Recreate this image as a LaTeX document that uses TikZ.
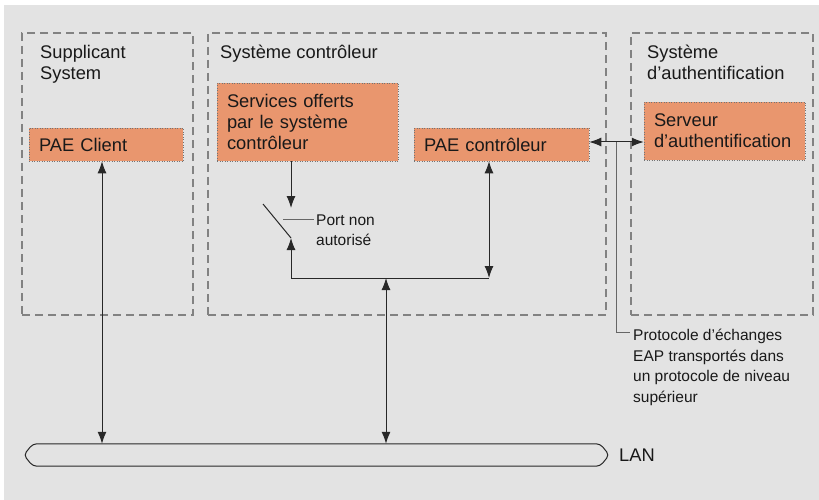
\documentclass[tikz,border=0pt]{standalone}
\usepackage{fontspec}
\setmainfont{Liberation Sans}
\usetikzlibrary{arrows.meta,calc}
\definecolor{bg}{RGB}{227,227,227}
\definecolor{orng}{RGB}{233,150,110}
\definecolor{ink}{RGB}{40,40,40}
\definecolor{dsh}{RGB}{130,130,130}
\definecolor{txt}{RGB}{25,25,25}
\begin{document}
\begin{tikzpicture}[x=1pt,y=-1pt,
  mainfont/.style={font=\fontsize{18.3}{21}\selectfont},
  smallfont/.style={font=\fontsize{15.5}{20.5}\selectfont},
  dbox/.style={draw=dsh, line width=1.1pt, dash pattern=on 8pt off 5pt, inner sep=0pt},
  obox/.style={draw=black!55, line width=0.5pt, dotted, fill=orng, inner xsep=10pt, inner ysep=0pt,
    align=left, mainfont, text=txt},
  title/.style={inner sep=0pt, align=left, anchor=north west, mainfont, text=txt},
  arr/.style={draw=ink, line width=1pt},
  tip/.style={-{Latex[length=12pt,width=9pt]}},
  tips/.style={{Latex[length=12pt,width=9pt]}-{Latex[length=12pt,width=9pt]}},
  note/.style={draw=black!60, line width=0.7pt}
]
\useasboundingbox (0,0) rectangle (819,500);
\fill[white] (0,0) rectangle (819,500);
\fill[bg] (4,5) rectangle (819,500);

% container boxes
\node[dbox, minimum width=171pt, minimum height=282pt] (sup) at (107.5,174) {};
\node[dbox, minimum width=398pt, minimum height=282pt] (ctl) at (407,174) {};
\node[dbox, minimum width=182pt, minimum height=282pt] (auth) at (722,174) {};

% titles
\node[title] (tsup) at (40,45) {Supplicant\\System};
\node[title] (tctl) at (220,45) {Système contrôleur};
\node[title] (tauth) at (647,45) {Système\\d'authentification};

% orange boxes
\node[obox, text width=134pt, minimum height=33pt] (paeclient) at (106,144.5) {PAE Client};
\node[obox, text width=161pt, minimum height=78pt] (services) at (307.5,122) {Services offerts\\par le système\\contrôleur};
\node[obox, text width=155pt, minimum height=33pt] (paectl) at (501.5,144.5) {PAE contrôleur};
\node[obox, text width=141pt, minimum height=58pt] (serveur) at (724.5,131) {Serveur\\d'authentification};

% LAN
\node[minimum width=585pt, minimum height=22pt, inner sep=0pt] (lan) at (316.5,455) {};
\draw[ink, line width=1pt, rounded corners=4pt]
  ([xshift=9pt]lan.north west) -- ([xshift=-9pt]lan.north east) -- (lan.east)
  -- ([xshift=-9pt]lan.south east) -- ([xshift=9pt]lan.south west) -- (lan.west) -- cycle;
\node[anchor=west, inner sep=0pt, mainfont, text=txt] (lanlbl) at (619,455) {LAN};

% coordinates
\coordinate (xclient) at (102,0);
\coordinate (dtip) at (291,208);
\coordinate (swtop) at (263,204);
\coordinate (swbot) at (291,238);
\coordinate (cornerL) at (291,278);
\coordinate (cornerR) at (489,278);
\coordinate (mid) at (386,278);
\coordinate (yeap) at (0,142);
\coordinate (portA) at (283,219);
\coordinate (portB) at (314,219);
\coordinate (nvtop) at (616,142);
\coordinate (nvbot) at (616,332);
\coordinate (nvend) at (630,332);

% connectors
\draw[arr, tips] (paeclient.south -| xclient) -- (lan.north -| xclient);
\draw[arr, tip] (services.south -| dtip) -- (dtip);
\draw[arr] (swtop) -- (swbot);
\draw[arr, tip] (cornerL) -- (swbot);
\draw[arr] (cornerL) -- (cornerR);
\draw[arr, tips] (paectl.south -| cornerR) -- (cornerR);
\draw[arr, tips] (mid) -- (lan.north -| mid);
\draw[arr, tips] (paectl.east |- yeap) -- (serveur.west |- yeap);

% port label
\draw[note] (portA) -- (portB);
\node[anchor=west, inner sep=0pt, align=left, smallfont, text=txt] (port) at (316,230) {Port non\\autorisé};

% protocol note
\draw[note] (nvtop) -- (nvbot) -- (nvend);
\node[anchor=north west, inner sep=0pt, align=left, smallfont, text=txt] (proto) at (633,329) {Protocole d'échanges\\EAP transportés dans\\un protocole de niveau\\supérieur};
\end{tikzpicture}
\end{document}
